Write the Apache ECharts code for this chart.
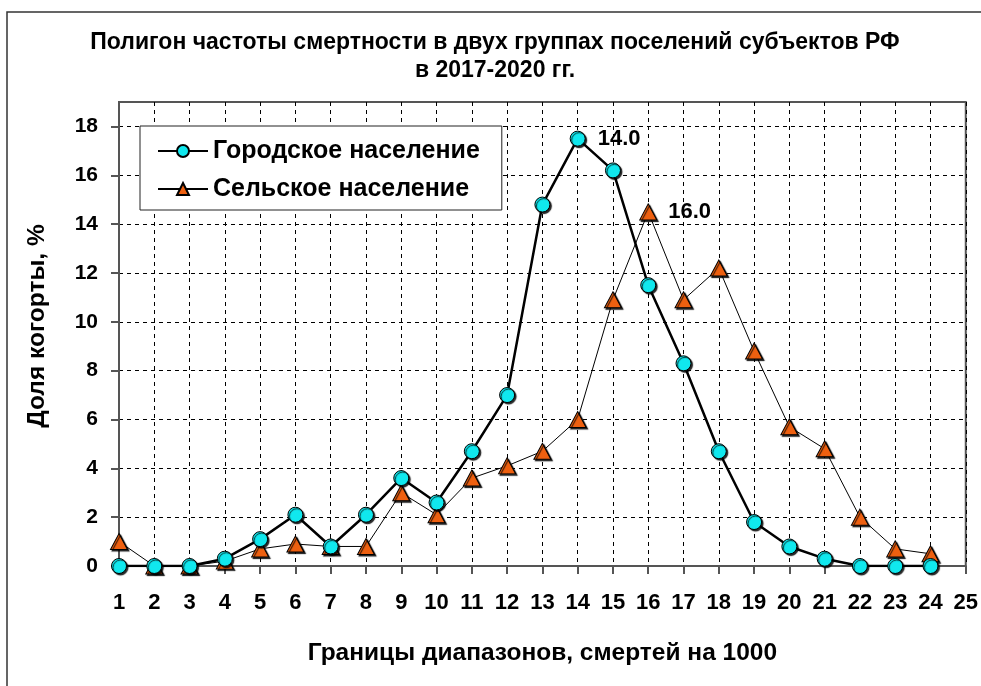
<!DOCTYPE html>
<html>
<head>
<meta charset="utf-8">
<script src="https://cdn.jsdelivr.net/npm/echarts@6/dist/echarts.min.js"></script>
<style>
    html, body { margin: 0; padding: 0; background: #fff; }
    #main { width: 981px; height: 686px; }
</style>
</head>
<body>
<div id="main"></div>
<script>
// границы диапазонов (ось X)
var xValues = [1, 2, 3, 4, 5, 6, 7, 8, 9, 10, 11, 12, 13, 14, 15, 16, 17, 18, 19, 20, 21, 22, 23, 24];
var yTicks = [0, 2, 4, 6, 8, 10, 12, 14, 16, 18];
// доля когорты, %
var urbanValues = [0, 0, 0, 0.3, 1.1, 2.1, 0.8, 2.1, 3.6, 2.6, 4.7, 7.0, 14.8, 17.5, 16.2, 11.5, 8.3, 4.7, 1.8, 0.8, 0.3, 0, 0, 0];
var ruralValues = [1.0, 0, 0, 0.2, 0.7, 0.9, 0.8, 0.8, 3.0, 2.1, 3.6, 4.1, 4.7, 6.0, 10.9, 14.5, 10.9, 12.2, 8.8, 5.7, 4.8, 2.0, 0.7, 0.5];
// подписанные точки (мода)
var urbanLabelX = [14];
var ruralLabelX = [16];

var font = '"Liberation Sans", Arial, sans-serif';

function buildData(values, labelX, dist) {
    var out = [];
    for (var i = 0; i < xValues.length; i++) {
        var item = { value: [xValues[i], values[i]] };
        if (labelX.indexOf(xValues[i]) >= 0) {
            item.label = {
                show: true,
                position: 'right',
                distance: dist,
                fontFamily: font,
                fontWeight: 'bold',
                fontSize: 22,
                color: '#000',
                formatter: function (p) { return p.value[0].toFixed(1); }
            };
        }
        out.push(item);
    }
    return out;
}

var myChart = echarts.init(document.getElementById('main'));
var option = {
    backgroundColor: '#fff',
    animation: false,
    title: {
        text: 'Полигон частоты смертности в двух группах поселений субъектов РФ\nв 2017-2020 гг.',
        left: 490,
        textAlign: 'center',
        top: 24,
        textStyle: { fontFamily: font, fontWeight: 'bold', fontSize: 23, lineHeight: 28, color: '#000' }
    },
    graphic: [{
        type: 'polyline',
        shape: { points: [[7, 690], [7, 12], [985, 12]] },
        style: { stroke: '#333', lineWidth: 1.5, fill: null }
    }],
    legend: {
        orient: 'vertical',
        left: 140,
        top: 126,
        padding: [12, 22, 8, 17],
        itemGap: 12,
        itemWidth: 50,
        itemHeight: 15,
        backgroundColor: '#fff',
        borderColor: '#222',
        borderWidth: 1,
        textStyle: { fontFamily: font, fontWeight: 'bold', fontSize: 25, lineHeight: 26, color: '#000' },
        data: ['Городское население', 'Сельское население']
    },
    grid: {
        left: 119, right: 15, top: 102, bottom: 120,
        show: true,
        borderColor: '#555',
        borderWidth: 2
    },
    xAxis: {
        type: 'value',
        min: 1,
        max: 25,
        interval: 1,
        name: 'Границы диапазонов, смертей на 1000',
        nameLocation: 'middle',
        nameGap: 75,
        nameTextStyle: { fontFamily: font, fontWeight: 'bold', fontSize: 24.5, color: '#000' },
        axisLine: { show: true, lineStyle: { color: '#555', width: 2 } },
        axisTick: { show: true, inside: false, length: 8, lineStyle: { color: '#555', width: 2 } },
        axisLabel: { margin: 26, fontFamily: font, fontWeight: 'bold', fontSize: 22, color: '#000' },
        splitLine: { show: true, lineStyle: { color: '#000', width: 1, type: [4, 4] } }
    },
    yAxis: {
        type: 'value',
        min: 0,
        max: 19,
        interval: 2,
        name: 'Доля когорты, %',
        nameLocation: 'middle',
        nameGap: 69,
        nameTextStyle: { fontFamily: font, fontWeight: 'bold', fontSize: 24.5, color: '#000', padding: [0, 0, 0, 16] },
        axisLine: { show: true, lineStyle: { color: '#555', width: 2 } },
        axisTick: { show: true, length: 8, customValues: yTicks, lineStyle: { color: '#555', width: 2 } },
        axisLabel: { margin: 21, customValues: yTicks, fontFamily: font, fontWeight: 'bold', fontSize: 21, color: '#000' },
        splitLine: { show: true, lineStyle: { color: '#000', width: 1, type: [4, 4] } }
    },
    series: [
        {
            name: 'Сельское население',
            type: 'line',
            symbol: 'triangle',
            symbolSize: [17, 16],
            z: 2,
            lineStyle: { color: '#000', width: 1 },
            itemStyle: { color: '#EE6010', borderColor: '#000', borderWidth: 1,
                shadowColor: 'rgba(0,0,0,0.85)', shadowBlur: 1, shadowOffsetX: 1.5, shadowOffsetY: 1.5 },
            data: buildData(ruralValues, ruralLabelX, 11)
        },
        {
            name: 'Городское население',
            type: 'line',
            symbol: 'circle',
            symbolSize: 15,
            z: 3,
            lineStyle: { color: '#000', width: 2.5 },
            itemStyle: { color: '#10E8EE', borderColor: '#000', borderWidth: 1,
                shadowColor: 'rgba(0,0,0,0.85)', shadowBlur: 1, shadowOffsetX: 1.5, shadowOffsetY: 1.5 },
            data: buildData(urbanValues, urbanLabelX, 12)
        }
    ]
};
myChart.setOption(option);
</script>
</body>
</html>
